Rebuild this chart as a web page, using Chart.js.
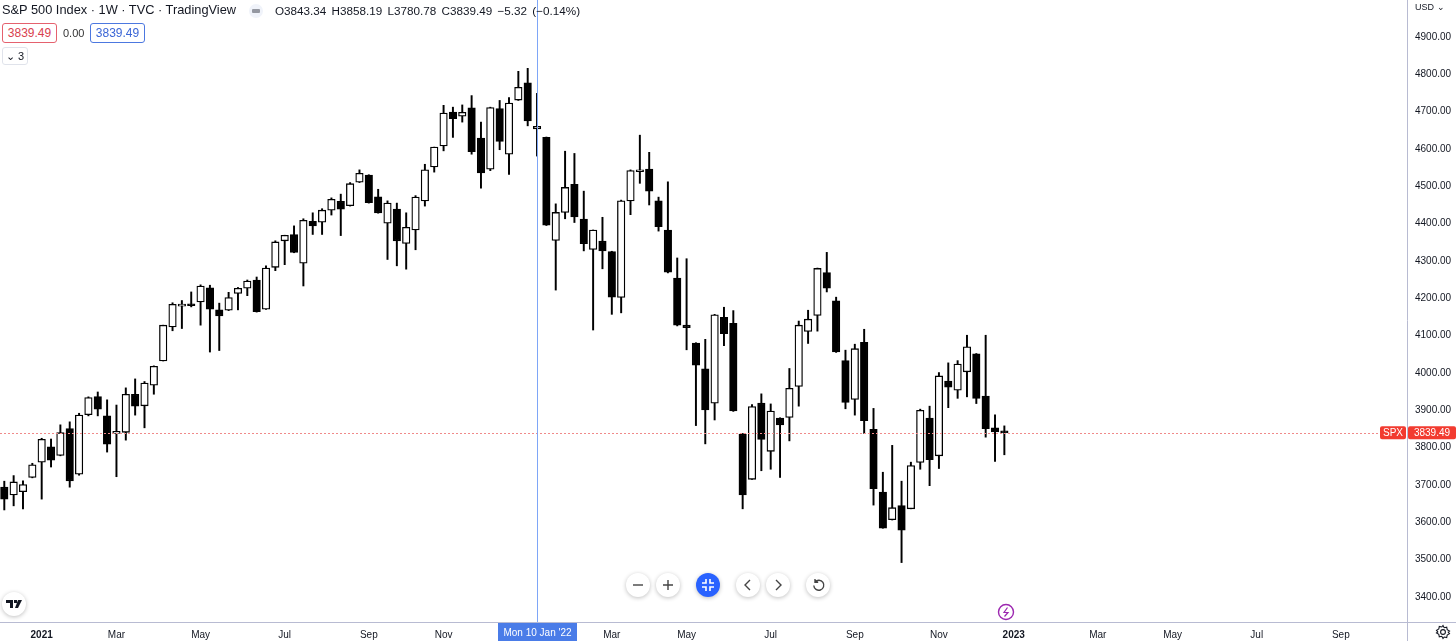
<!DOCTYPE html>
<html>
<head>
<meta charset="utf-8">
<title>S&amp;P 500 Index</title>
<script src="https://cdn.jsdelivr.net/npm/chart.js@4/dist/chart.umd.min.js"></script>
<style>
  html, body { margin: 0; padding: 0; background: #fff; }
  body { width: 1456px; height: 641px; overflow: hidden; position: relative; font-family: "Liberation Sans", sans-serif; color: #131722; }
  canvas { position: absolute; left: 0; top: 0; }
  .t { position: absolute; white-space: nowrap; }
  .box { position: absolute; box-sizing: border-box; border-radius: 3px; font-size: 12px; text-align: center; background: #fff; }
  .btn { position: absolute; width: 24px; height: 24px; border-radius: 50%; background: #fff; box-shadow: 0 1px 4px rgba(0,0,0,.25); }
  .btn svg { position: absolute; left: 4px; top: 4px; }
</style>
</head>
<body>
<canvas id="chart" width="1456" height="641"></canvas>

<div class="t" style="left:2px;top:2px;font-size:12.8px">S&amp;P 500 Index · 1W · TVC · TradingView</div>
<div class="t" style="left:249px;top:4px;width:14px;height:14px;border-radius:50%;background:#f0f3fa"></div>
<div class="t" style="left:252px;top:9px;width:8px;height:4px;border-radius:1px;background:#9598a1"></div>
<div class="t" style="left:275px;top:4px;font-size:11.7px;word-spacing:2px">O3843.34 H3858.19 L3780.78 C3839.49 −5.32 (−0.14%)</div>
<div class="box" style="left:2px;top:23px;width:55px;height:20px;line-height:18px;border:1px solid #e5616e;color:#d9414f">3839.49</div>
<div class="t" style="left:63px;top:27px;font-size:11px;color:#333">0.00</div>
<div class="box" style="left:90px;top:23px;width:55px;height:20px;line-height:18px;border:1px solid #4c78e0;color:#3b66d6">3839.49</div>
<div class="box" style="left:2px;top:47px;width:26px;height:18px;line-height:16px;border:1px solid #e0e3eb;font-size:11px">⌄ 3</div>
<div class="t" style="left:1415px;top:2px;font-size:9px">USD ⌄</div>

<div class="btn" style="left:626px;top:573px"><svg width="16" height="16"><path d="M3 8h10" stroke="#444" stroke-width="1.4"/></svg></div>
<div class="btn" style="left:656px;top:573px"><svg width="16" height="16"><path d="M3 8h10M8 3v10" stroke="#444" stroke-width="1.4"/></svg></div>
<div class="btn" style="left:696px;top:573px;background:#2962ff"><svg width="16" height="16" fill="none" stroke="#fff" stroke-width="1.6"><path d="M6 2v4H2M10 2v4h4M6 14v-4H2M10 14v-4h4"/></svg></div>
<div class="btn" style="left:736px;top:573px"><svg width="16" height="16" fill="none" stroke="#444" stroke-width="1.4"><path d="M10 3L5 8l5 5"/></svg></div>
<div class="btn" style="left:766px;top:573px"><svg width="16" height="16" fill="none" stroke="#444" stroke-width="1.4"><path d="M6 3l5 5-5 5"/></svg></div>
<div class="btn" style="left:806px;top:573px"><svg width="16" height="16" fill="none" stroke="#444" stroke-width="1.4"><path d="M5 5a5 5 0 1 1-1.2 3.5M5 2v3.2h3.2"/></svg></div>

<div class="btn" style="left:2px;top:592px"><svg width="16" height="16" fill="#131722"><path d="M0 4h7v8H4V7H0zM8 4h3v3H8zM12 4h4l-4 8H9z"/></svg></div>
<svg class="t" style="left:997px;top:603px" width="18" height="18" fill="none" stroke="#9c27b0"><circle cx="9" cy="9" r="7.5" stroke-width="1.4"/><path d="M10.5 4.5L7 9.5h4L7.5 13.5" stroke-width="1.2"/></svg>
<svg class="t" style="left:1435px;top:624px" width="16" height="16" fill="none" stroke="#131722" stroke-width="1.1"><path d="M8 1.5l1.2 2.2 2.5-.5.5 2.5 2.3 1.3-1.3 1 1.3 1.7-2.3 1.3-.5 2.5-2.5-.5L8 14.5l-1.2-2.2-2.5.5-.5-2.5L1.5 9l1.3-1-1.3-1.7 2.3-1.3.5-2.5 2.5.5z"/><circle cx="8" cy="8" r="2.4"/></svg>

<script>
// 週足の OHLC（2020-12-07 の週から 2022-12-26 の週まで）
const opens = [
  3694, 3673, 3682, 3720, 3761, 3802, 3779, 3851, 3729, 3888,
  3937, 3885, 3838, 3841, 3943, 3912, 3967, 4032, 4123, 4179,
  4185, 4190, 4228, 4169, 4168, 4213, 4227, 4249, 4171, 4283,
  4354, 4371, 4294, 4406, 4404, 4436, 4460, 4448, 4511, 4530,
  4472, 4401, 4439, 4347, 4383, 4461, 4552, 4608, 4699, 4688,
  4710, 4629, 4546, 4708, 4586, 4731, 4777, 4654, 4631, 4355,
  4430, 4505, 4412, 4331, 4353, 4325, 4202, 4461, 4539, 4546,
  4461, 4383, 4254, 4128, 4080, 4011, 3919, 4149, 4133, 3836,
  3715, 3919, 3790, 3879, 3881, 3964, 4111, 4154, 4269, 4193,
  4033, 3929, 4082, 3849, 3681, 3607, 3645, 3636, 3760, 3879,
  3778, 3978, 3954, 4003, 4051, 3938, 3853, 3843.34,
];
const highs = [
  3710, 3725, 3711, 3758, 3825, 3823, 3861, 3869, 3892, 3936,
  3949, 3928, 3914, 3960, 3984, 3977, 4019, 4128, 4188, 4194,
  4217, 4236, 4235, 4187, 4216, 4229, 4249, 4257, 4287, 4354,
  4369, 4394, 4413, 4429, 4440, 4469, 4479, 4510, 4544, 4531,
  4492, 4461, 4455, 4429, 4475, 4559, 4605, 4717, 4712, 4718,
  4743, 4672, 4712, 4730, 4738, 4808, 4816, 4749, 4632, 4453,
  4594, 4588, 4487, 4383, 4417, 4326, 4463, 4544, 4637, 4591,
  4471, 4512, 4308, 4306, 4081, 4090, 4157, 4176, 4167, 3838,
  3915, 3944, 3917, 3880, 4012, 4139, 4168, 4281, 4323, 4203,
  4061, 4077, 4117, 3905, 3734, 3806, 3710, 3761, 3903, 3911,
  4001, 4027, 4033, 4101, 4052, 4101, 3888, 3858.19,
];
const lows = [
  3633, 3644, 3636, 3719, 3662, 3748, 3778, 3694, 3726, 3885,
  3885, 3788, 3722, 3820, 3887, 3853, 3943, 4032, 4113, 4119,
  4177, 4128, 4056, 4060, 4167, 4169, 4207, 4163, 4170, 4274,
  4290, 4322, 4233, 4371, 4371, 4423, 4368, 4447, 4510, 4455,
  4428, 4304, 4287, 4278, 4330, 4447, 4538, 4595, 4631, 4672,
  4586, 4495, 4542, 4598, 4532, 4730, 4662, 4581, 4395, 4222,
  4413, 4403, 4327, 4115, 4279, 4157, 4161, 4424, 4508, 4450,
  4380, 4268, 4126, 4062, 3859, 3810, 3874, 4073, 3897, 3636,
  3715, 3738, 3742, 3720, 3818, 3911, 4079, 4112, 4217, 4055,
  3904, 3887, 3838, 3646, 3584, 3606, 3492, 3636, 3742, 3698,
  3744, 3907, 3932, 3936, 3918, 3828, 3763, 3780.78,
];
const closes = [
  3662, 3708, 3701, 3754, 3822, 3766, 3840, 3711, 3887, 3934,
  3903, 3809, 3842, 3943, 3911, 3973, 4018, 4128, 4184, 4180,
  4180, 4233, 4171, 4153, 4202, 4227, 4246, 4164, 4281, 4351,
  4369, 4323, 4409, 4394, 4436, 4465, 4439, 4507, 4535, 4456,
  4429, 4455, 4354, 4390, 4471, 4544, 4605, 4696, 4681, 4698,
  4593, 4536, 4711, 4620, 4723, 4765, 4675, 4661, 4396, 4430,
  4497, 4418, 4346, 4383, 4327, 4203, 4461, 4542, 4543, 4487,
  4392, 4270, 4128, 4121, 4021, 3901, 4156, 4105, 3898, 3673,
  3910, 3822, 3898, 3861, 3959, 4128, 4144, 4280, 4227, 4056,
  3921, 4065, 3872, 3690, 3584, 3639, 3579, 3752, 3900, 3768,
  3992, 3962, 4024, 4070, 3932, 3851, 3842, 3839.49,
];

// 軸の目盛り（timeTicks は足の番号）
const priceTicks = [3400, 3500, 3600, 3700, 3800, 3900, 4000, 4100, 4200, 4300, 4400, 4500, 4600, 4700, 4800, 4900];
const timeTicks = [4, 12, 21, 30, 39, 47, 65, 73, 82, 91, 100, 108, 117, 125, 134, 143];
const timeLabels = ["2021", "Mar", "May", "Jul", "Sep", "Nov", "Mar", "May", "Jul", "Sep", "Nov", "2023", "Mar", "May", "Jul", "Sep"];

const lastClose = 3839.49;
const crosshairBar = 57;
const crosshairLabel = "Mon 10 Jan '22";
const symbolLabel = "SPX";

const wicks = lows.map((l, i) => ({ x: i, y: [l, highs[i]] }));
const bodies = opens.map((o, i) => ({ x: i, y: [Math.min(o, closes[i]), Math.max(o, closes[i])] }));

const labelFont = '10px "Liberation Sans", sans-serif';

// 十字線・現在値ライン・軸の枠線
const overlay = {
  id: "overlay",
  afterDatasetsDraw(chart) {
    const { ctx, scales: { x, y }, chartArea: area } = chart;
    const yClose = y.getPixelForValue(lastClose);
    const xCross = Math.round(x.getPixelForValue(crosshairBar)) + 0.5;
    ctx.save();

    // 現在値ライン
    ctx.strokeStyle = "#f08a8a";
    ctx.lineWidth = 1;
    ctx.setLineDash([2, 2]);
    ctx.beginPath();
    ctx.moveTo(area.left, Math.round(yClose) + 0.5);
    ctx.lineTo(area.right, Math.round(yClose) + 0.5);
    ctx.stroke();
    ctx.setLineDash([]);

    // 十字線
    ctx.strokeStyle = "#7ea6f7";
    ctx.beginPath();
    ctx.moveTo(xCross, 0);
    ctx.lineTo(xCross, area.bottom);
    ctx.stroke();

    // 枠線
    ctx.strokeStyle = "#b8bbd2";
    ctx.beginPath();
    ctx.moveTo(area.right + 0.5, 0);
    ctx.lineTo(area.right + 0.5, 641);
    ctx.moveTo(0, area.bottom + 0.5);
    ctx.lineTo(1456, area.bottom + 0.5);
    ctx.stroke();

    // 価格ラベル
    ctx.fillStyle = "#f23b30";
    ctx.beginPath();
    ctx.roundRect(area.right - 27, yClose - 6.5, 26, 13, 2);
    ctx.roundRect(area.right + 1, yClose - 6.5, 48, 13, 2);
    ctx.fill();
    ctx.fillStyle = "#fff";
    ctx.font = labelFont;
    ctx.textAlign = "center";
    ctx.textBaseline = "middle";
    ctx.fillText(symbolLabel, area.right - 14, yClose + 0.5);
    ctx.fillText(lastClose.toFixed(2), area.right + 25, yClose + 0.5);

    // 日付ラベル
    ctx.fillStyle = "#4a7ce8";
    ctx.fillRect(xCross - 39.5, area.bottom + 1, 79, 18);
    ctx.fillStyle = "#fff";
    ctx.fillText(crosshairLabel, xCross, area.bottom + 11);
    ctx.restore();
  },
};

new Chart(document.getElementById("chart"), {
  type: "bar",
  data: {
    datasets: [
      {
        // 実体
        data: bodies,
        order: 1,
        barThickness: 7.5,
        minBarLength: 2,
        borderWidth: 1.3,
        borderSkipped: false,
        borderColor: "#000",
        backgroundColor: opens.map((o, i) => (closes[i] >= o ? "#fff" : "#000")),
      },
      {
        // ヒゲ
        data: wicks,
        order: 2,
        barThickness: 1.3,
        backgroundColor: "#000",
      },
    ],
  },
  options: {
    responsive: false,
    animation: false,
    grouped: false,
    layout: { padding: 0 },
    plugins: { legend: { display: false }, tooltip: { enabled: false } },
    scales: {
      x: {
        type: "linear",
        offset: false, // bar のデフォルト offset だと範囲が広がる
        min: -0.46,
        max: 150.08,
        grid: { display: false, drawTicks: false },
        border: { display: false },
        afterBuildTicks(scale) {
          scale.ticks = timeTicks.map((v) => ({ value: v }));
        },
        afterFit(scale) {
          scale.height = 19;
          scale.paddingLeft = 0;
          scale.paddingRight = 0;
        },
        ticks: {
          autoSkip: false,
          maxRotation: 0,
          padding: 7,
          color: "#131722",
          font: (c) => ({
            family: "Liberation Sans, sans-serif",
            size: 10,
            weight: Number(timeLabels[c.index]) ? "bold" : "normal",
          }),
          callback: (v, i) => timeLabels[i],
        },
      },
      y: {
        position: "right",
        min: 3332.8,
        max: 4999.1,
        grid: { display: false, drawTicks: false },
        border: { display: false },
        afterBuildTicks(scale) {
          scale.ticks = priceTicks.map((v) => ({ value: v }));
        },
        afterFit(scale) {
          scale.width = 49;
          scale.paddingTop = 0;
          scale.paddingBottom = 0;
        },
        ticks: {
          autoSkip: false,
          padding: 8,
          color: "#131722",
          font: { family: "Liberation Sans, sans-serif", size: 10 },
          callback: (v) => v.toFixed(2),
        },
      },
    },
  },
  plugins: [overlay],
});
</script>
</body>
</html>
